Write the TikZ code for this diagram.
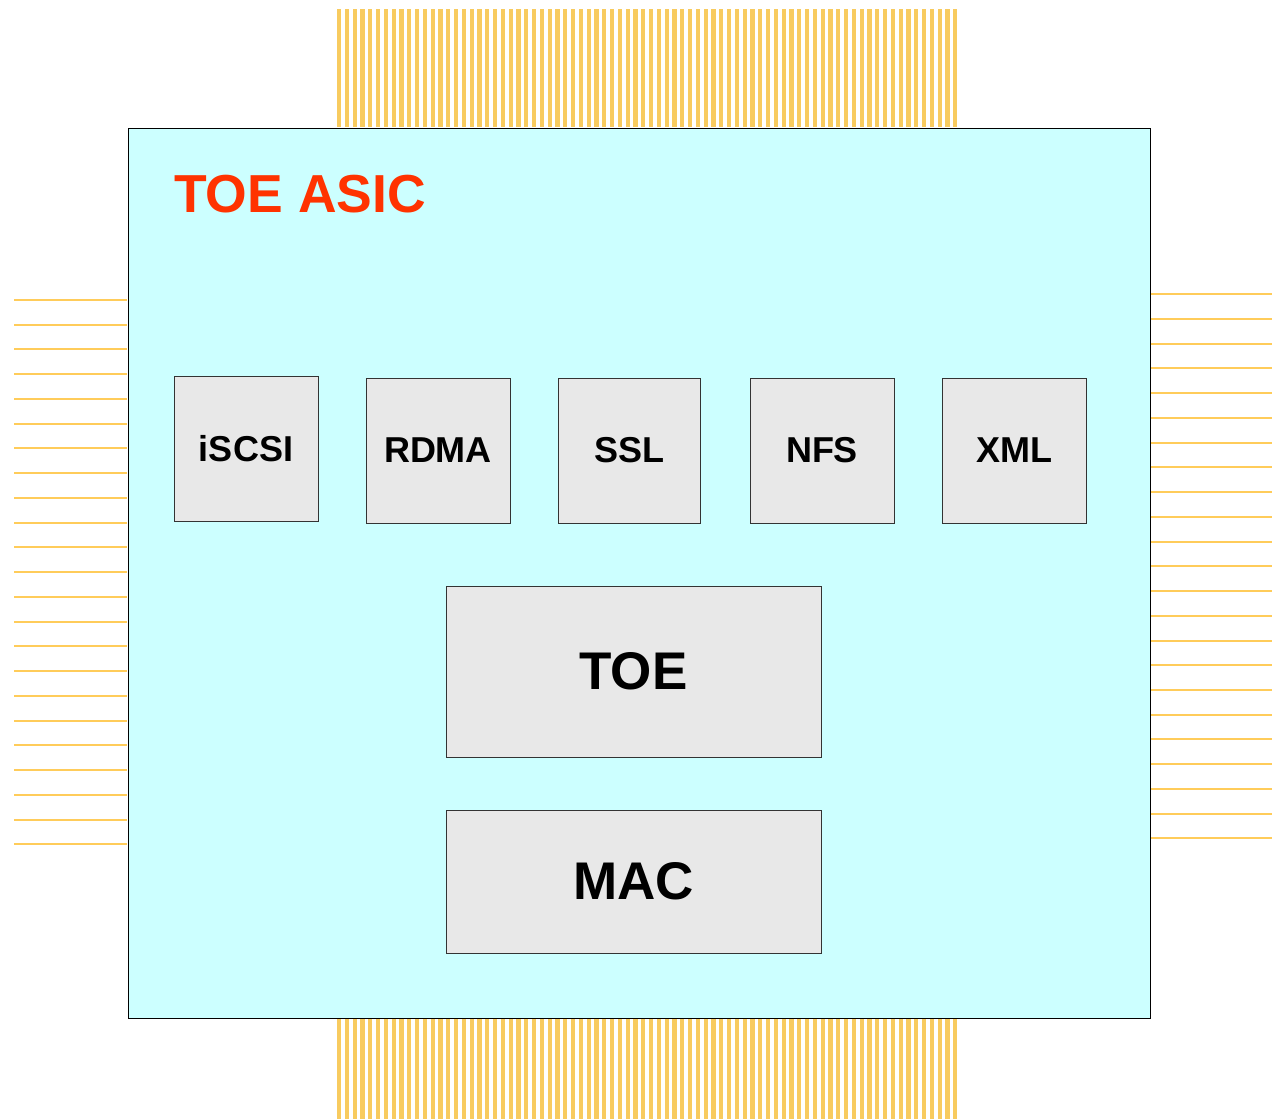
\documentclass[tikz,border=0pt]{standalone}
\usepackage{fontspec}
\setmainfont{Liberation Sans}
\definecolor{chipfill}{RGB}{204,255,255}
\definecolor{blockfill}{RGB}{232,232,232}
\definecolor{pincol}{RGB}{248,203,95}
\definecolor{leadcol}{RGB}{255,204,90}
\definecolor{titlered}{RGB}{255,51,0}
\tikzset{
  block/.style={draw=black!80, line width=0.9pt, fill=blockfill, inner sep=0pt},
  smalllabel/.style={font=\fontsize{36}{40}\selectfont\bfseries},
  biglabel/.style={font=\fontsize{53}{58}\selectfont\bfseries},
  lead/.style={fill=leadcol},
}
\begin{document}
\begin{tikzpicture}[x=1pt,y=-1pt]
\useasboundingbox (0,0) rectangle (1272,1119);
% package pins, top and bottom
\foreach \i in {0,...,79} {
  \fill[pincol] ({337+7.8*\i},9) rectangle ({341.2+7.8*\i},127);
  \fill[pincol] ({337+7.8*\i},1017) rectangle ({341.2+7.8*\i},1119);
}
% package leads, left and right
\foreach \i in {0,...,22} {
  \pgfmathsetmacro\ly{round(300+24.74*\i)}
  \pgfmathsetmacro\ry{round(294.3+24.73*\i)}
  \fill[lead] (14,{\ly-1}) rectangle (127,{\ly+1});
  \fill[lead] (1151,{\ry-1}) rectangle (1272,{\ry+1});
}
% chip die
\node[draw=black, line width=1pt, fill=chipfill, minimum width=1022pt, minimum height=890pt, inner sep=0pt, anchor=north west] (chip) at (127.5,127.5) {};
\node[anchor=base west, text=titlered, font=\fontsize{53.5}{60}\selectfont\bfseries, inner sep=0pt] (title) at (174,212) {TOE ASIC};
% protocol blocks
\node[block, minimum width=144pt, minimum height=145pt, smalllabel] (iscsi) at (246,448.5) {iSCSI};
\node[block, minimum width=144pt, minimum height=145pt, smalllabel] (rdma) at (438,450.5) {RDMA};
\node[block, minimum width=142pt, minimum height=145pt, smalllabel] (ssl) at (629,450.5) {SSL};
\node[block, minimum width=144pt, minimum height=145pt, smalllabel] (nfs) at (822,450.5) {NFS};
\node[block, minimum width=144pt, minimum height=145pt, smalllabel] (xml) at (1014,450.5) {XML};
% offload engine and MAC
\node[block, minimum width=375pt, minimum height=171pt, biglabel] (toe) at (633.5,671.5) {TOE};
\node[block, minimum width=375pt, minimum height=143pt, biglabel] (mac) at (633.5,881.5) {MAC};
\end{tikzpicture}
\end{document}
